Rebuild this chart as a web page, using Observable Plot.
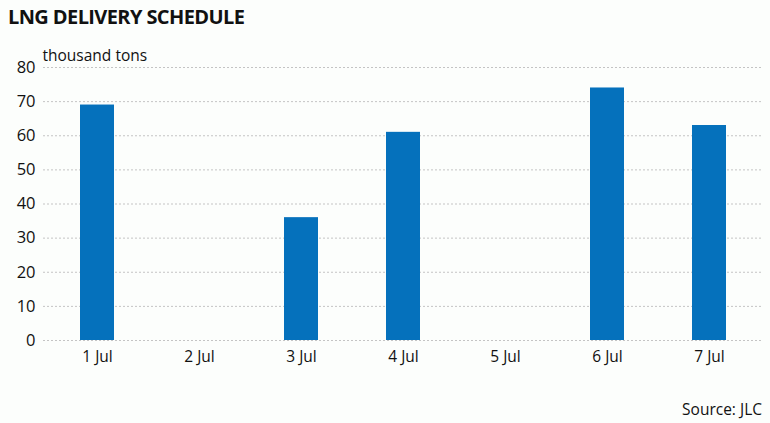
<!DOCTYPE html>
<html>
<head>
<meta charset="utf-8">
<script src="https://cdn.jsdelivr.net/npm/d3@7"></script>
<script src="https://cdn.jsdelivr.net/npm/@observablehq/plot@0.6"></script>
<style>
  html, body { margin: 0; padding: 0; background: #fcfefc; }
  body { width: 770px; height: 423px; overflow: hidden; font-family: "Open Sans", sans-serif; color: #111; }
  #title { height: 40px; box-sizing: border-box; padding: 3px 0 0 8px; font-weight: 700; font-size: 20px; line-height: 28px; letter-spacing: -0.6px; }
  #source { text-align: right; padding-right: 8px; font-size: 15.5px; line-height: 20px; margin-top: 19px; }
</style>
</head>
<body>
<div id="title">LNG DELIVERY SCHEDULE</div>
<div id="chart"></div>
<div id="source">Source: JLC</div>
<script>
const days = ["1 Jul", "2 Jul", "3 Jul", "4 Jul", "5 Jul", "6 Jul", "7 Jul"];
const deliveries = [69, 0, 36, 61, 0, 74, 63];
const yTicks = [0, 10, 20, 30, 40, 50, 60, 70, 80];
const unitLabel = "thousand tons";

const data = days.map((d, i) => ({day: d, value: deliveries[i]}));

const chart = Plot.plot({
  width: 770,
  height: 340,
  marginTop: 27,
  marginBottom: 40,
  marginLeft: 43,
  marginRight: 8,
  style: {background: "transparent", fontFamily: "Open Sans, sans-serif", fontSize: "15px", color: "#111"},
  x: {domain: days, paddingInner: 0.67, paddingOuter: 0.335, align: 0.5, label: null},
  y: {domain: [0, 80], label: null},
  marks: [
    Plot.gridY(yTicks, {stroke: "#c4c4c4", strokeOpacity: 1, strokeDasharray: "2,2"}),
    Plot.axisY(yTicks, {tickSize: 0, tickPadding: 8, label: null, fontSize: 16.5}),
    Plot.axisX({tickSize: 0, tickPadding: 10, label: null, fontSize: 15.5}),
    Plot.barY(data.filter(d => d.value > 0), {x: "day", y: "value", fill: "#0571bc"}),
    Plot.text([unitLabel], {frameAnchor: "top-left", textAnchor: "start", dy: -18, dx: -1, fontSize: 15.5, fill: "#111"})
  ]
});
document.getElementById("chart").appendChild(chart);
</script>
</body>
</html>
